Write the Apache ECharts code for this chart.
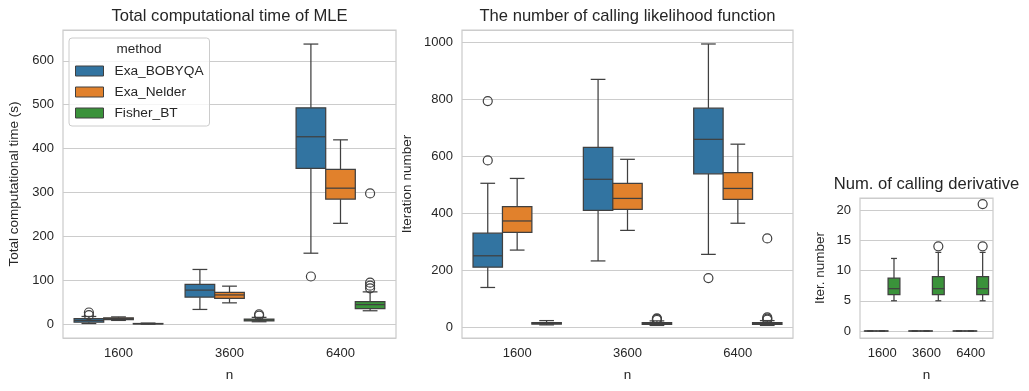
<!DOCTYPE html>
<html>
<head>
<meta charset="utf-8">
<script src="https://cdn.jsdelivr.net/npm/echarts@6/dist/echarts.min.js"></script>
<style>
  html, body { margin: 0; padding: 0; background: #fff; }
  #chart { width: 1029px; height: 391px; }
</style>
</head>
<body>
<div id="chart"></div>
<script>
  const nLabels = ['1600', '3600', '6400'];
  const methods = ['Exa_BOBYQA', 'Exa_Nelder', 'Fisher_BT'];
  const colors = ['#3274a1', '#e1812c', '#3a923a'];

  // each box: [lower whisker, q1, median, q3, upper whisker], one per n
  const timeBobyqa = [[2, 5, 9, 13, 18], [34, 62, 78, 91, 125], [162, 355, 427, 493, 638]];
  const timeNelder = [[9, 11, 13, 15, 17], [49, 59, 67, 73, 87], [230, 285, 310, 353, 420]];
  const timeFisher = [[0.5, 1, 1.5, 2, 3], [6, 8, 10, 12, 16], [31, 36, 45, 52, 74]];
  const timeOutBobyqa = [[21, 27], [], [109]];
  const timeOutNelder = [[], [], []];
  const timeOutFisher = [[], [20, 23], [82, 88, 95, 298]];

  const iterBobyqa = [[141, 212, 252, 331, 506], [234, 411, 520, 632, 870], [257, 539, 660, 769, 994]];
  const iterNelder = [[272, 334, 374, 424, 523], [341, 415, 453, 506, 590], [366, 450, 488, 543, 643]];
  const iterFisher = [[10, 13, 15, 18, 25], [8, 12, 15, 18, 24], [8, 12, 15, 18, 25]];
  const iterOutBobyqa = [[586, 794], [], [174]];
  const iterOutNelder = [[], [], []];
  const iterOutFisher = [[], [27, 30, 33], [28, 32, 36, 313]];

  const derivBobyqa = [[0, 0, 0, 0, 0], [0, 0, 0, 0, 0], [0, 0, 0, 0, 0]];
  const derivNelder = [[0, 0, 0, 0, 0], [0, 0, 0, 0, 0], [0, 0, 0, 0, 0]];
  const derivFisher = [[5, 6, 7, 8.75, 12], [5, 6, 7, 9, 13], [5, 6, 7, 9, 13]];
  const derivOutBobyqa = [[], [], []];
  const derivOutNelder = [[], [], []];
  const derivOutFisher = [[], [14], [14, 21]];

  const panels = [
    { title: 'Total computational time of MLE', yName: 'Total computational time (s)',
      boxes: [timeBobyqa, timeNelder, timeFisher], outs: [timeOutBobyqa, timeOutNelder, timeOutFisher],
      grid: { left: 63, top: 30, width: 333, height: 308 }, min: -31, max: 670, split: 7, nameGap: 42 },
    { title: 'The number of calling likelihood function', yName: 'Iteration number',
      boxes: [iterBobyqa, iterNelder, iterFisher], outs: [iterOutBobyqa, iterOutNelder, iterOutFisher],
      grid: { left: 462, top: 30, width: 331, height: 308 }, min: -36, max: 1043, split: 5, nameGap: 48 },
    { title: 'Num. of calling derivative', yName: 'Iter. number',
      boxes: [derivBobyqa, derivNelder, derivFisher], outs: [derivOutBobyqa, derivOutNelder, derivOutFisher],
      grid: { left: 860, top: 198, width: 133, height: 140 }, min: -1.16, max: 22, split: 5, nameGap: 33 }
  ];

  const FONT = '"Liberation Sans", Arial, sans-serif';
  const TXT = '#262626';
  const LINE = '#404040';

  const slotGeom = (api, cat, hue) => {
    const band = api.size([1, 0])[0];
    const slot = band * 0.8 / 3;
    const cx = api.coord([cat, 0])[0] + (hue - 1) * slot;
    return { cx, slot };
  };

  const boxRenderer = hue => (params, api) => {
    const cat = api.value(0);
    const { cx, slot } = slotGeom(api, cat, hue);
    const y = i => api.coord([cat, api.value(i)])[1];
    const lo = y(1), q1 = y(2), med = y(3), q3 = y(4), hi = y(5);
    const half = slot / 2;
    const cap = slot / 4;
    const ls = { stroke: LINE, lineWidth: 1.25 };
    return {
      type: 'group',
      children: [
        { type: 'line', shape: { x1: cx, y1: hi, x2: cx, y2: q3 }, style: ls },
        { type: 'line', shape: { x1: cx, y1: q1, x2: cx, y2: lo }, style: ls },
        { type: 'line', shape: { x1: cx - cap, y1: hi, x2: cx + cap, y2: hi }, style: ls },
        { type: 'line', shape: { x1: cx - cap, y1: lo, x2: cx + cap, y2: lo }, style: ls },
        { type: 'rect', shape: { x: cx - half, y: q3, width: slot, height: Math.max(q1 - q3, 0.01) },
          style: { fill: colors[hue], stroke: LINE, lineWidth: 1.25 } },
        { type: 'line', shape: { x1: cx - half, y1: med, x2: cx + half, y2: med }, style: ls }
      ]
    };
  };

  const outlierRenderer = (params, api) => {
    const cat = api.value(0);
    const hue = api.value(2);
    const { cx } = slotGeom(api, cat, hue);
    const cy = api.coord([cat, api.value(1)])[1];
    return {
      type: 'circle',
      shape: { cx, cy, r: 4.5 },
      style: { fill: 'none', stroke: LINE, lineWidth: 1.2 }
    };
  };

  const grids = [], xAxes = [], yAxes = [], series = [], graphics = [];

  panels.forEach((p, gi) => {
    grids.push(Object.assign({ show: true, borderColor: '#cccccc', borderWidth: 1.25, backgroundColor: '#fff' }, p.grid));
    xAxes.push({
      type: 'category', gridIndex: gi, data: nLabels,
      name: 'n', nameLocation: 'middle', nameGap: 30,
      nameTextStyle: { fontFamily: FONT, fontSize: 13.5, color: TXT },
      axisLine: { show: false }, axisTick: { show: false },
      axisLabel: { fontFamily: FONT, fontSize: 13, color: TXT, margin: 9 },
      splitLine: { show: false }
    });
    yAxes.push({
      type: 'value', gridIndex: gi, min: p.min, max: p.max, splitNumber: p.split,
      name: p.yName, nameLocation: 'middle', nameGap: p.nameGap, nameRotate: 90,
      nameTextStyle: { fontFamily: FONT, fontSize: 13.5, color: TXT },
      axisLine: { show: false }, axisTick: { show: false },
      axisLabel: { fontFamily: FONT, fontSize: 13, color: TXT, margin: 9,
        showMinLabel: false, showMaxLabel: false, formatter: v => String(v) },
      splitLine: { lineStyle: { color: '#cccccc', width: 1 } }
    });
    p.boxes.forEach((arr, hue) => {
      series.push({
        type: 'custom', name: methods[hue], xAxisIndex: gi, yAxisIndex: gi,
        itemStyle: { color: colors[hue] },
        encode: { x: 0, y: [1, 2, 3, 4, 5] },
        renderItem: boxRenderer(hue),
        data: arr.map((v, cat) => [cat].concat(v))
      });
    });
    const outData = [];
    p.outs.forEach((arr, hue) => arr.forEach((vals, cat) => vals.forEach(v => outData.push([cat, v, hue]))));
    series.push({
      type: 'custom', name: 'outliers', xAxisIndex: gi, yAxisIndex: gi, z: 3,
      encode: { x: 0, y: 1 },
      renderItem: outlierRenderer,
      data: outData
    });
    graphics.push({
      type: 'text', x: p.grid.left + p.grid.width / 2, y: p.grid.top - 14,
      style: { text: p.title, fontFamily: FONT, fontSize: 16.6, fill: TXT, align: 'center', verticalAlign: 'middle' }
    });
  });

  graphics.push({
    type: 'text', x: 139, y: 49, z: 10,
    style: { text: 'method', fontFamily: FONT, fontSize: 13.5, fill: TXT, align: 'center', verticalAlign: 'middle' }
  });

  const chart = echarts.init(document.getElementById('chart'), null, { renderer: 'canvas' });
  chart.setOption({
    animation: false,
    backgroundColor: '#fff',
    grid: grids,
    xAxis: xAxes,
    yAxis: yAxes,
    legend: {
      data: methods, orient: 'vertical', left: 69, top: 38,
      padding: [25, 6, 5, 6], itemGap: 5, itemWidth: 28, itemHeight: 10,
      icon: 'rect', borderColor: '#cccccc', borderWidth: 1, borderRadius: 3,
      backgroundColor: 'rgba(255,255,255,0.8)', selectedMode: false,
      itemStyle: { borderColor: LINE, borderWidth: 1 },
      textStyle: { fontFamily: FONT, fontSize: 13.7, color: TXT, lineHeight: 16, padding: [0, 0, 0, 6] }
    },
    graphic: graphics,
    series
  });
</script>
</body>
</html>
